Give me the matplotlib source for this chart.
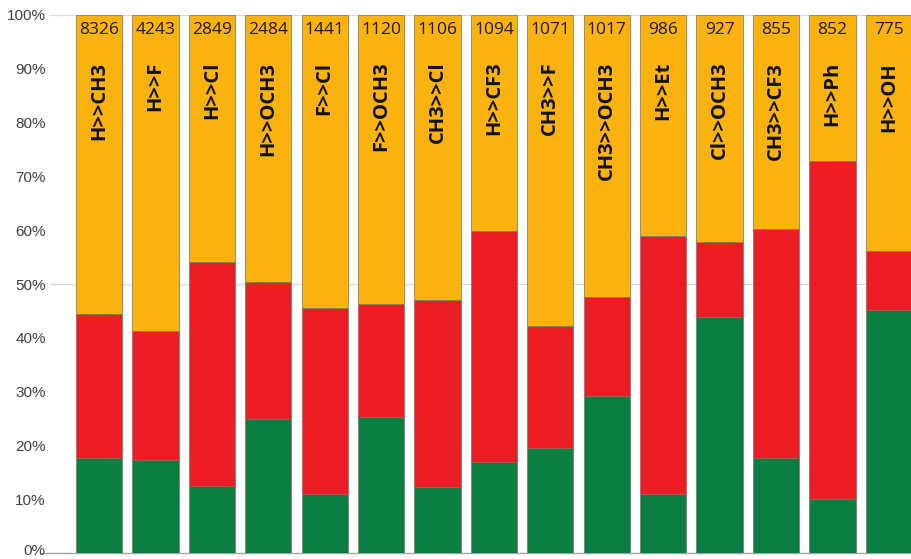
import matplotlib
matplotlib.use("Agg")
import matplotlib.pyplot as plt
import matplotlib.transforms as mtransforms
import numpy as np

labels = ["H>>CH3", "H>>F", "H>>Cl", "H>>OCH3", "F>>Cl", "F>>OCH3", "CH3>>Cl",
          "H>>CF3", "CH3>>F", "CH3>>OCH3", "H>>Et", "Cl>>OCH3", "CH3>>CF3",
          "H>>Ph", "H>>OH"]
counts = [8326, 4243, 2849, 2484, 1441, 1120, 1106, 1094, 1071, 1017, 986,
          927, 855, 852, 775]
green = [17.7, 17.3, 12.4, 25.0, 11.0, 25.3, 12.3, 16.9, 19.6, 29.1, 11.0,
         43.8, 17.7, 10.1, 45.1]
red = [26.7, 24.0, 41.6, 25.4, 34.5, 20.9, 34.7, 43.0, 22.6, 18.4, 47.9,
       14.0, 42.5, 62.8, 11.0]
orange = [55.6, 58.7, 46.0, 49.6, 54.5, 53.8, 53.0, 40.1, 57.8, 52.5, 41.1,
          42.2, 39.8, 27.1, 43.9]
yticks = list(range(0, 101, 10))

fig = plt.figure(figsize=(9.12, 5.59), dpi=100)
ax = fig.add_axes([50 / 912, 6 / 559, 1 - 50 / 912, 538 / 559])

x = np.arange(len(labels))
w = 0.82
ec = "#7a7060"
g = np.array(green)
r = np.array(red)
o = np.array(orange)
ax.bar(x, g, width=w, color="#0b7f41", edgecolor=ec, linewidth=0.5, zorder=2)
ax.bar(x, r, width=w, bottom=g, color="#ec1c24", edgecolor=ec, linewidth=0.5, zorder=2)
ax.bar(x, o, width=w, bottom=g + r, color="#f9b20e", edgecolor=ec, linewidth=0.5, zorder=2)

for xi, lab, c in zip(x, labels, counts):
    ax.text(xi, 97.2, str(c), ha="center", va="center", fontsize=12.5,
            family="Open Sans", color="#1a1a1a", zorder=3)
    ax.text(xi, 91.3, lab, ha="center", va="top", rotation=90, fontsize=14.5,
            family="Open Sans", fontweight="bold", color="#111111", zorder=3)

for yv in (50, 100):
    ax.axhline(yv, color="#d9d9d9", linewidth=0.9, zorder=0)

ax.set_xlim(-0.868, 14.41)
ax.set_ylim(0, 100)
ax.set_yticks(yticks)
ax.set_yticklabels([f"{t}%" for t in yticks])
ax.set_xticks([])
for s in ax.spines.values():
    s.set_visible(False)
ax.plot([-0.012, 1], [0, 0], transform=ax.get_yaxis_transform(), color="#a6a6a6",
        linewidth=1.0, clip_on=False, zorder=1)
ax.tick_params(axis="y", length=0, pad=3, labelsize=11, labelcolor="#404040")
for t in ax.get_yticklabels():
    t.set_family("Liberation Sans")
# lift the 0% label slightly so it stays inside the canvas
lbl0 = ax.get_yticklabels()[0]
lbl0.set_transform(lbl0.get_transform() +
                   mtransforms.ScaledTranslation(0, 2.5 / 72, fig.dpi_scale_trans))

fig.savefig("out.png", dpi=100)
